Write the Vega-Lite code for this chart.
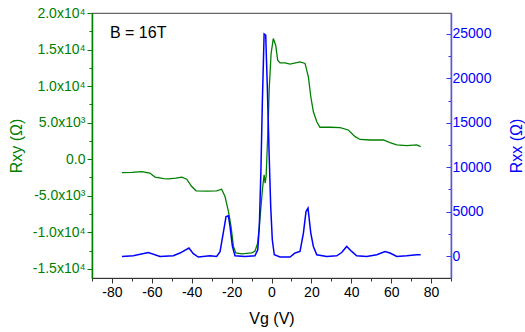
{
  "$schema": "https://vega.github.io/schema/vega-lite/v6.json",
  "width": 359,
  "height": 265,
  "autosize": {"type": "none"},
  "padding": {"left": 92, "top": 13, "right": 74, "bottom": 54},
  "background": "white",
  "config": {
    "view": {"stroke": "#666666", "strokeWidth": 1.2},
    "font": "Liberation Sans",
    "axis": {"grid": false, "labelFont": "Liberation Sans", "titleFont": "Liberation Sans", "labelFontSize": 14, "titleFontSize": 16, "titleFontWeight": "normal"}
  },
  "datasets": {
    "rxy": [
      {"Vg": -75, "R": -1830}, {"Vg": -70, "R": -1800}, {"Vg": -65, "R": -1690}, {"Vg": -61, "R": -1900},
      {"Vg": -58.4, "R": -2450}, {"Vg": -54, "R": -2650}, {"Vg": -51.7, "R": -2690}, {"Vg": -48, "R": -2600},
      {"Vg": -45, "R": -2460}, {"Vg": -42.5, "R": -2730}, {"Vg": -40, "R": -3740}, {"Vg": -37.8, "R": -4320},
      {"Vg": -32.5, "R": -4370}, {"Vg": -27.5, "R": -4320}, {"Vg": -25, "R": -4100}, {"Vg": -23.3, "R": -5100},
      {"Vg": -21.6, "R": -7150}, {"Vg": -20.3, "R": -9200}, {"Vg": -19.1, "R": -11900}, {"Vg": -17.9, "R": -12820},
      {"Vg": -14.9, "R": -12960}, {"Vg": -9.9, "R": -12820}, {"Vg": -8.3, "R": -12600}, {"Vg": -6.9, "R": -11460},
      {"Vg": -5.7, "R": -7830}, {"Vg": -4.4, "R": -3740}, {"Vg": -3.7, "R": -2140}, {"Vg": -3.2, "R": -3270},
      {"Vg": -2.7, "R": -2370}, {"Vg": -1.9, "R": 3080}, {"Vg": -1.1, "R": 9900}, {"Vg": -0.2, "R": 14460},
      {"Vg": 0.9, "R": 16500}, {"Vg": 2.1, "R": 15590}, {"Vg": 3.1, "R": 13550}, {"Vg": 4.3, "R": 13180},
      {"Vg": 6.8, "R": 13180}, {"Vg": 9.3, "R": 13000}, {"Vg": 14.3, "R": 13310}, {"Vg": 16.8, "R": 13100},
      {"Vg": 18.5, "R": 11270}, {"Vg": 19.7, "R": 8540}, {"Vg": 21, "R": 6490}, {"Vg": 22.7, "R": 5130},
      {"Vg": 24.3, "R": 4370}, {"Vg": 29.4, "R": 4370}, {"Vg": 34.4, "R": 4310}, {"Vg": 38.5, "R": 4000},
      {"Vg": 41.9, "R": 3080}, {"Vg": 44.4, "R": 2700}, {"Vg": 49.4, "R": 2630}, {"Vg": 56.1, "R": 2630},
      {"Vg": 59.4, "R": 2260}, {"Vg": 62.8, "R": 1950}, {"Vg": 67.8, "R": 1860}, {"Vg": 72.8, "R": 1950},
      {"Vg": 74.8, "R": 1720}
    ],
    "rxx": [
      {"Vg": -75, "R": -40}, {"Vg": -69.3, "R": 30}, {"Vg": -61.8, "R": 400}, {"Vg": -55.9, "R": -40},
      {"Vg": -49.2, "R": 30}, {"Vg": -45.9, "R": 340}, {"Vg": -41.4, "R": 900}, {"Vg": -39.2, "R": 260},
      {"Vg": -36.7, "R": -110}, {"Vg": -30.8, "R": 30}, {"Vg": -27.5, "R": -40}, {"Vg": -25.8, "R": 500},
      {"Vg": -24.2, "R": 2590}, {"Vg": -22.8, "R": 4450}, {"Vg": -21.6, "R": 4530}, {"Vg": -20.8, "R": 3330},
      {"Vg": -19.6, "R": 1080}, {"Vg": -18.3, "R": 30}, {"Vg": -13.3, "R": -40}, {"Vg": -8.3, "R": 30},
      {"Vg": -6.9, "R": 700}, {"Vg": -6.1, "R": 3330}, {"Vg": -5.3, "R": 9700}, {"Vg": -4.6, "R": 17200},
      {"Vg": -3.7, "R": 25000}, {"Vg": -2.9, "R": 24870}, {"Vg": -2.1, "R": 19060}, {"Vg": -1.2, "R": 11580},
      {"Vg": -0.4, "R": 5580}, {"Vg": 0.4, "R": 1830}, {"Vg": 1.4, "R": 150}, {"Vg": 4.3, "R": -100},
      {"Vg": 9.3, "R": -110}, {"Vg": 11.8, "R": 340}, {"Vg": 14.3, "R": 520}, {"Vg": 16, "R": 2590},
      {"Vg": 17.3, "R": 5010}, {"Vg": 18.3, "R": 5400}, {"Vg": 19.7, "R": 2590}, {"Vg": 21, "R": 1080},
      {"Vg": 22.7, "R": 150}, {"Vg": 27.7, "R": -40}, {"Vg": 32.7, "R": 30}, {"Vg": 35.2, "R": 400},
      {"Vg": 37.7, "R": 1080}, {"Vg": 40.2, "R": 520}, {"Vg": 42.7, "R": 30}, {"Vg": 47.7, "R": -40},
      {"Vg": 52.8, "R": 150}, {"Vg": 56.9, "R": 520}, {"Vg": 59.4, "R": 340}, {"Vg": 62.8, "R": -40},
      {"Vg": 67.8, "R": 30}, {"Vg": 72.8, "R": 150}, {"Vg": 74.8, "R": 150}
    ],
    "label": [{"text": "B = 16T"}]
  },
  "layer": [
    {
      "data": {"name": "rxy"},
      "mark": {"type": "line", "color": "#008000", "strokeWidth": 1.3, "clip": true},
      "encoding": {
        "x": {
          "field": "Vg", "type": "quantitative",
          "scale": {"domain": [-90, 90], "nice": false, "zero": false},
          "axis": {
            "title": "Vg (V)", "titleColor": "black", "titlePadding": 11, "orient": "bottom",
            "values": [-80, -60, -40, -20, 0, 20, 40, 60, 80],
            "labelExpr": "toString(datum.value)",
            "domainColor": "#333333", "domainWidth": 1.2, "tickColor": "#333333", "tickWidth": 1,
            "tickSize": 5, "labelColor": "black", "labelPadding": 2, "labelOverlap": false
          }
        },
        "y": {
          "field": "R", "type": "quantitative",
          "scale": {"domain": [-16250, 20000], "nice": false, "zero": false},
          "axis": {
            "title": "Rxy (Ω)", "titleColor": "#008000", "orient": "left", "titlePadding": 8,
            "values": [-15000, -12500, -10000, -7500, -5000, -2500, 0, 2500, 5000, 7500, 10000, 12500, 15000, 17500, 20000],
            "labelExpr": "datum.value % 5000 !== 0 ? '' : datum.value === 0 ? '0.0' : abs(datum.value) >= 10000 ? replace(format(datum.value / 10000, '.1f'), '−', '-') + 'x10⁴' : replace(format(datum.value / 1000, '.1f'), '−', '-') + 'x10³'",
            "domainColor": "#008000", "domainWidth": 1.5, "tickColor": "#008000", "tickWidth": 1,
            "tickSize": {"condition": {"test": "datum.value % 5000 === 0", "value": 5}, "value": 3},
            "labelColor": "#008000", "labelPadding": 2, "labelOverlap": false
          }
        }
      }
    },
    {
      "data": {"name": "rxx"},
      "mark": {"type": "line", "color": "#0000ff", "strokeWidth": 1.5, "clip": true},
      "encoding": {
        "x": {
          "field": "Vg", "type": "quantitative",
          "axis": {
            "title": null, "orient": "bottom", "domain": false, "labels": false,
            "values": [-90, -70, -50, -30, -10, 10, 30, 50, 70, 90],
            "tickColor": "#333333", "tickWidth": 1, "tickSize": 3
          }
        },
        "y": {
          "field": "R", "type": "quantitative",
          "scale": {"domain": [-2470, 27360], "nice": false, "zero": false},
          "axis": {
            "title": "Rxx (Ω)", "titleColor": "#0000ff", "orient": "right", "titleAngle": 270, "titlePadding": 34,
            "values": [0, 2500, 5000, 7500, 10000, 12500, 15000, 17500, 20000, 22500, 25000],
            "labelExpr": "datum.value % 5000 === 0 ? toString(datum.value) : ''",
            "domainColor": "#5555ff", "domainWidth": 1.5, "tickColor": "#3333ff", "tickWidth": 1,
            "tickSize": {"condition": {"test": "datum.value % 5000 === 0", "value": -5}, "value": -3},
            "labelColor": "#0000ff", "labelPadding": 6, "labelOverlap": false
          }
        }
      }
    },
    {
      "data": {"name": "label"},
      "mark": {"type": "text", "align": "left", "baseline": "alphabetic", "fontSize": 16, "font": "Liberation Sans", "color": "black"},
      "encoding": {
        "text": {"field": "text"},
        "x": {"datum": -81, "axis": null},
        "y": {"datum": 16640, "scale": {"domain": [-16250, 20000], "nice": false, "zero": false}, "axis": null}
      }
    }
  ],
  "resolve": {"scale": {"y": "independent"}, "axis": {"x": "independent"}}
}
